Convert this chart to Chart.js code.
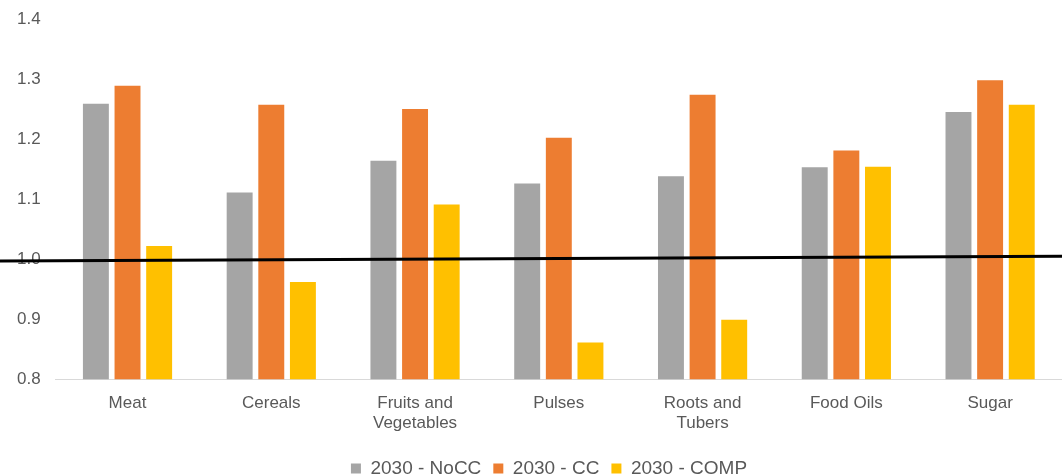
<!DOCTYPE html>
<html>
<head>
<meta charset="utf-8">
<script src="https://cdn.jsdelivr.net/npm/chart.js@4"></script>
<style>
  html, body { margin: 0; padding: 0; background: #fff; }
  #wrap { width: 1062px; height: 476px; }
</style>
</head>
<body>
<div id="wrap"><canvas id="grafico"></canvas></div>
<script>
// categorias y valores
const categorias = ['Meat', 'Cereals', ['Fruits and', 'Vegetables'], 'Pulses', ['Roots and', 'Tubers'], 'Food Oils', 'Sugar'];
const noCC = [1.259, 1.111, 1.164, 1.126, 1.138, 1.153, 1.245];
const cc = [1.289, 1.257, 1.250, 1.202, 1.274, 1.181, 1.298];
const comp = [1.022, 0.962, 1.091, 0.861, 0.899, 1.154, 1.257];
const ticksY = [0.8, 0.9, 1.0, 1.1, 1.2, 1.3, 1.4];
// linea negra de referencia (izquierda, derecha)
const lineaRef = [0.997, 1.005];

// plugin para la linea de referencia que cruza todo el ancho
const lineaPlugin = {
  id: 'lineaRef',
  beforeLayout(chart) {
    // leyenda mas baja y algo corrida a la derecha
    const leyenda = chart.legend;
    if (leyenda && !leyenda._ajustada) {
      const fitOrig = leyenda.fit;
      const drawOrig = leyenda.draw;
      leyenda.fit = function () { fitOrig.call(this); this.height -= 13; };
      leyenda.draw = function () {
        this.ctx.save();
        this.ctx.translate(17, -1);
        drawOrig.call(this);
        this.ctx.restore();
      };
      leyenda._ajustada = true;
    }
  },
  afterDatasetsDraw(chart) {
    const y = chart.scales.y;
    const ctx = chart.ctx;
    ctx.save();
    ctx.strokeStyle = '#000';
    ctx.lineWidth = 3;
    ctx.beginPath();
    ctx.moveTo(0, y.getPixelForValue(lineaRef[0]));
    ctx.lineTo(chart.width, y.getPixelForValue(lineaRef[1]));
    ctx.stroke();
    ctx.restore();
  }
};

const fuente = 'Liberation Sans, Arial';

const ctx = document.getElementById('grafico');
new Chart(ctx, {
  type: 'bar',
  data: {
    labels: categorias,
    datasets: [
      { label: '2030 - NoCC', data: noCC, backgroundColor: '#A5A5A5' },
      { label: '2030 - CC', data: cc, backgroundColor: '#ED7D31' },
      { label: '2030 - COMP', data: comp, backgroundColor: '#FFC000' }
    ]
  },
  options: {
    responsive: true,
    maintainAspectRatio: false,
    animation: false,
    layout: { padding: { top: 19, left: 2, right: 0, bottom: 0 } },
    datasets: { bar: { categoryPercentage: 0.66, barPercentage: 0.82 } },
    scales: {
      x: {
        grid: { display: false, drawTicks: false },
        border: { display: true, color: '#D9D9D9', width: 1 },
        ticks: { color: '#595959', font: { family: fuente, size: 17 }, padding: 14 }
      },
      y: {
        min: 0.8,
        max: 1.4,
        afterBuildTicks(axis) { axis.ticks = ticksY.map(v => ({ value: v })); },
        afterFit(axis) { axis.paddingTop = 0; },
        grid: { display: false, drawTicks: false },
        border: { display: false },
        ticks: {
          color: '#595959',
          font: { family: fuente, size: 17 },
          padding: 15,
          callback: v => v.toFixed(1)
        }
      }
    },
    plugins: {
      legend: {
        position: 'bottom',
        labels: {
          color: '#595959',
          font: { family: fuente, size: 19 },
          boxWidth: 10,
          boxHeight: 10,
          padding: 12
        }
      },
      tooltip: { enabled: false }
    }
  },
  plugins: [lineaPlugin]
});
</script>
</body>
</html>
